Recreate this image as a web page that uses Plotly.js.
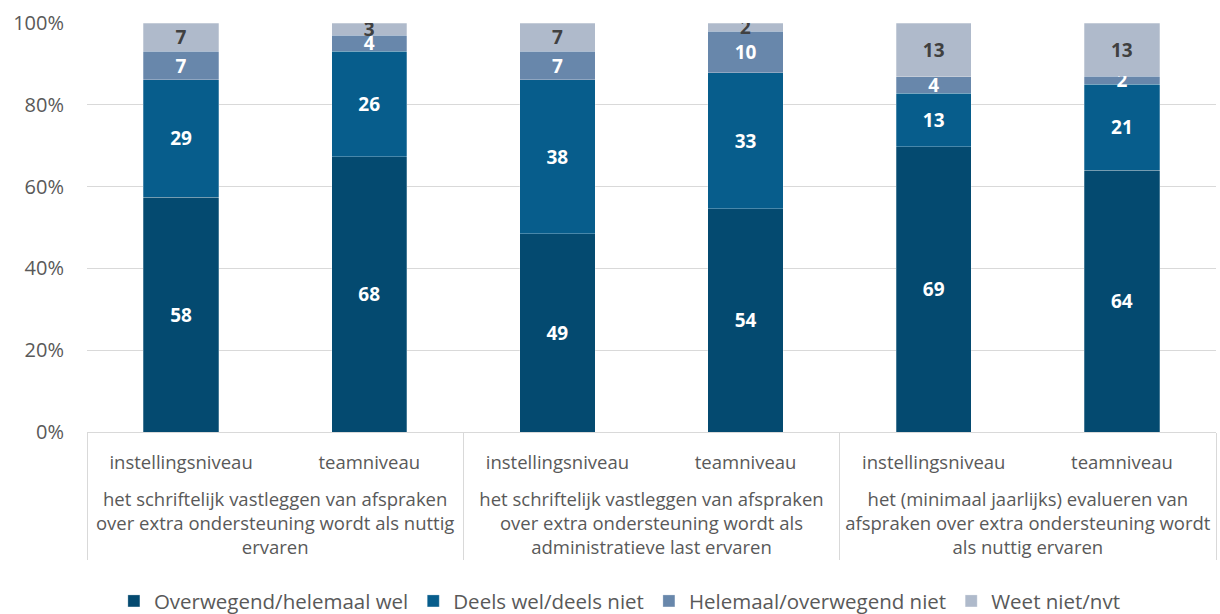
<!DOCTYPE html>
<html>
<head>
<meta charset="utf-8">
<script src="https://cdn.plot.ly/plotly-3.0.1.min.js"></script>
<style>
  html, body { margin: 0; padding: 0; background: #fff; }
  #chart { width: 1220px; height: 614px; }
</style>
</head>
<body>
<div id="chart"></div>
<script>
const groups = [
  "<br>het schriftelijk vastleggen van afspraken<br>over extra ondersteuning wordt als nuttig<br>ervaren",
  "<br>het schriftelijk vastleggen van afspraken<br>over extra ondersteuning wordt als<br>administratieve last ervaren",
  "<br>het (minimaal jaarlijks) evalueren van<br>afspraken over extra ondersteuning wordt<br>als nuttig ervaren"
];
const levels = ["instellingsniveau", "teamniveau"];
const seriesNames = ["Overwegend/helemaal wel", "Deels wel/deels niet", "Helemaal/overwegend niet", "Weet niet/nvt"];
const wel     = [58, 68, 49, 54, 69, 64];
const deels   = [29, 26, 38, 33, 13, 21];
const niet    = [7, 4, 7, 10, 4, 2];
const weetNiet = [7, 3, 7, 2, 13, 13];
const yTicks = [0, 20, 40, 60, 80, 100];

const colors = ["#044A70", "#075D8C", "#6887AB", "#AFBACB"];
const textColors = ["#FFFFFF", "#FFFFFF", "#FFFFFF", "#404040"];
const seriesValues = [wel, deels, niet, weetNiet];

const xGroups = [], xLevels = [];
groups.forEach(g => levels.forEach(l => { xGroups.push(g); xLevels.push(l); }));

const font = "Open Sans, Noto Sans, sans-serif";

const traces = seriesValues.map((vals, i) => ({
  type: "bar",
  name: seriesNames[i],
  x: [xGroups, xLevels],
  y: vals,
  text: vals.map(String),
  texttemplate: "%{text}",
  textposition: "inside",
  insidetextanchor: "middle",
  constraintext: "none",
  textangle: 0,
  textfont: { family: font, size: 19, color: textColors[i], weight: "bold" },
  marker: { color: colors[i], line: { color: "rgba(255,255,255,0.35)", width: 0.75 } },
  hoverinfo: "skip",
  width: 0.4
}));

const layout = {
  width: 1220,
  height: 614,
  margin: { l: 87, r: 4, t: 23, b: 182 },
  barmode: "stack",
  barnorm: "percent",
  paper_bgcolor: "#fff",
  plot_bgcolor: "#fff",
  font: { family: font, color: "#595959", size: 18.5 },
  showlegend: true,
  legend: {
    orientation: "h",
    x: 0.472, xanchor: "center",
    yref: "container",
    y: 0.021, yanchor: "middle",
    font: { family: font, size: 20.5, color: "#595959" },
    traceorder: "normal",
    itemwidth: 30
  },
  xaxis: {
    type: "multicategory",
    showdividers: true,
    dividercolor: "#D9D9D9",
    dividerwidth: 1,
    showline: true,
    linecolor: "#D9D9D9",
    linewidth: 1,
    tickfont: { family: font, size: 18.5, color: "#595959" },
    ticks: "",
    ticklabelstandoff: 14,
    showgrid: false,
    automargin: false
  },
  yaxis: {
    range: [0, 100],
    tickvals: yTicks,
    ticktext: yTicks.map(v => v + "%"),
    showgrid: true,
    gridcolor: "#D9D9D9",
    gridwidth: 1,
    zeroline: false,
    tickfont: { family: font, size: 20, color: "#595959" },
    ticklabelstandoff: 22,
    automargin: false,
    fixedrange: true
  }
};

Plotly.newPlot("chart", traces, layout, { displayModeBar: false, staticPlot: true });
</script>
</body>
</html>
